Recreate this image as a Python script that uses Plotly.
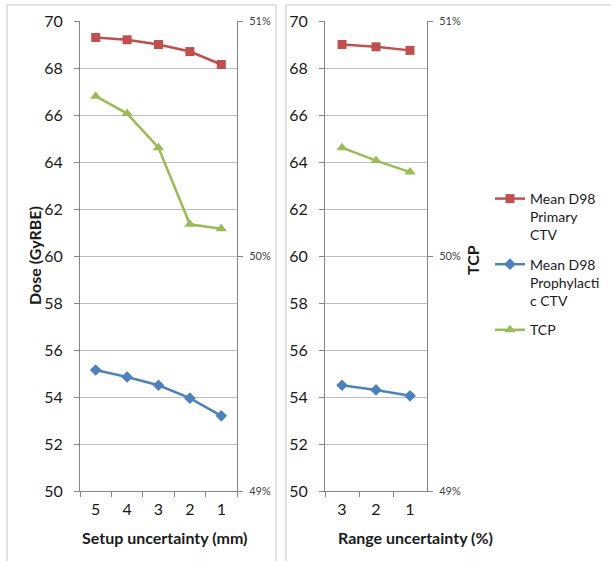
import plotly.graph_objects as go

# ---- data ----
setup_cats = ["5", "4", "3", "2", "1"]
range_cats = ["3", "2", "1"]

setup_primary = [69.3, 69.2, 69.0, 68.7, 68.15]
setup_prophy = [55.15, 54.85, 54.5, 53.95, 53.2]
setup_tcp = [0.5068, 0.50606, 0.50461, 0.50135, 0.50116]

range_primary = [69.0, 68.9, 68.75]
range_prophy = [54.5, 54.3, 54.05]
range_tcp = [0.50461, 0.50406, 0.50357]

names = ["Mean D98<br>Primary<br>CTV", "Mean D98<br>Prophylacti<br>c CTV", "TCP"]
RED, BLUE, GREEN = "#C0504D", "#4F81BD", "#9BBB59"

W, H = 611, 561
FONT = "Lato"
TXT = "#1a1a1a"
AXC = "#868686"
GRID = "#bfbfbf"

def px_x(p):
    return p / W

def px_y(p):
    return 1 - p / H

ydom = [px_y(491), px_y(21)]

fig = go.Figure()

def add_series(xa, ya, ya2, cats, prim, proph, tcp, show):
    fig.add_trace(go.Scatter(x=cats, y=prim, name=names[0], xaxis=xa, yaxis=ya,
                             mode="lines+markers", line=dict(color=RED, width=2.5),
                             marker=dict(symbol="square", size=9, color=RED),
                             showlegend=show, legendrank=1, legendgroup="a"))
    fig.add_trace(go.Scatter(x=cats, y=proph, name=names[1], xaxis=xa, yaxis=ya,
                             mode="lines+markers", line=dict(color=BLUE, width=2.5),
                             marker=dict(symbol="diamond", size=9, color=BLUE),
                             showlegend=show, legendrank=2, legendgroup="b"))
    fig.add_trace(go.Scatter(x=cats, y=tcp, name=names[2], xaxis=xa, yaxis=ya2,
                             mode="lines+markers", line=dict(color=GREEN, width=2.5),
                             marker=dict(symbol="triangle-up", size=10, color=GREEN),
                             showlegend=show, legendrank=3, legendgroup="c"))

add_series("x", "y", "y2", setup_cats, setup_primary, setup_prophy, setup_tcp, True)
add_series("x2", "y3", "y4", range_cats, range_primary, range_prophy, range_tcp, False)

def xaxis(dom, n):
    return dict(domain=dom, type="category", range=[-0.5, n - 0.5],
                showline=True, linecolor=AXC, linewidth=1, ticks="outside",
                tickson="boundaries", ticklen=5, tickcolor=AXC, showgrid=False,
                tickfont=dict(family=FONT, size=16, color=TXT), zeroline=False,
                automargin=False, ticklabelstandoff=4)

def yaxis(anchor):
    return dict(domain=ydom, anchor=anchor, range=[50, 70], dtick=2,
                showline=True, linecolor=AXC, linewidth=1, ticks="outside",
                ticklen=5, tickcolor=AXC, showgrid=True, gridcolor=GRID, gridwidth=1,
                tickfont=dict(family=FONT, size=16, color=TXT), zeroline=False,
                ticklabelstandoff=8, automargin=False)

def yaxis_sec(overlay, anchor):
    return dict(overlaying=overlay, anchor=anchor, side="right", range=[0.49, 0.51],
                dtick=0.01, tickformat=".0%", showline=True, linecolor=AXC, linewidth=1,
                ticks="outside", ticklen=5, tickcolor=AXC, showgrid=False, zeroline=False,
                tickfont=dict(family=FONT, size=11, color="#404040"), ticklabelstandoff=4,
                automargin=False)

fig.update_layout(
    width=W, height=H,
    margin=dict(l=0, r=0, t=0, b=0, pad=0, autoexpand=False),
    paper_bgcolor="white", plot_bgcolor="white",
    xaxis=xaxis([px_x(80), px_x(237)], len(setup_cats)),
    xaxis2=dict(xaxis([px_x(325), px_x(427)], len(range_cats)), anchor="y3"),
    yaxis=yaxis("x"),
    yaxis2=yaxis_sec("y", "x"),
    yaxis3=yaxis("x2"),
    yaxis4=yaxis_sec("y3", "x2"),
    legend=dict(x=px_x(490), y=px_y(183), xanchor="left", yanchor="top",
                font=dict(family=FONT, size=14, color=TXT), valign="top",
                itemwidth=30, tracegroupgap=8, bgcolor="rgba(0,0,0,0)"),
    showlegend=True,
)

# chart borders
fig.add_shape(type="rect", xref="paper", yref="paper", x0=px_x(7), x1=px_x(276),
              y0=px_y(570), y1=px_y(5), line=dict(color="#d9d9d9", width=1.5))
fig.add_shape(type="rect", xref="paper", yref="paper", x0=px_x(286), x1=px_x(620),
              y0=px_y(570), y1=px_y(5), line=dict(color="#d9d9d9", width=1.5))

# axis titles
ann = [
    dict(text="<b>Dose (GyRBE)</b>", x=px_x(35), y=px_y(256), textangle=-90, size=16),
    dict(text="<b>TCP</b>", x=px_x(473), y=px_y(260), textangle=-90, size=16),
    dict(text="<b>Setup uncertainty (mm)</b>", x=px_x(164), y=px_y(537), textangle=0, size=16),
    dict(text="<b>Range uncertainty (%)</b>", x=px_x(415), y=px_y(537), textangle=0, size=16),
]
for a in ann:
    fig.add_annotation(text=a["text"], x=a["x"], y=a["y"], xref="paper", yref="paper",
                       showarrow=False, textangle=a["textangle"], xanchor="center",
                       yanchor="middle", font=dict(family=FONT, size=a["size"], color=TXT))

fig.write_html("out.html", config={"displayModeBar": False},
               post_script="document.body.style.margin='0px';document.body.style.overflow='hidden';")
